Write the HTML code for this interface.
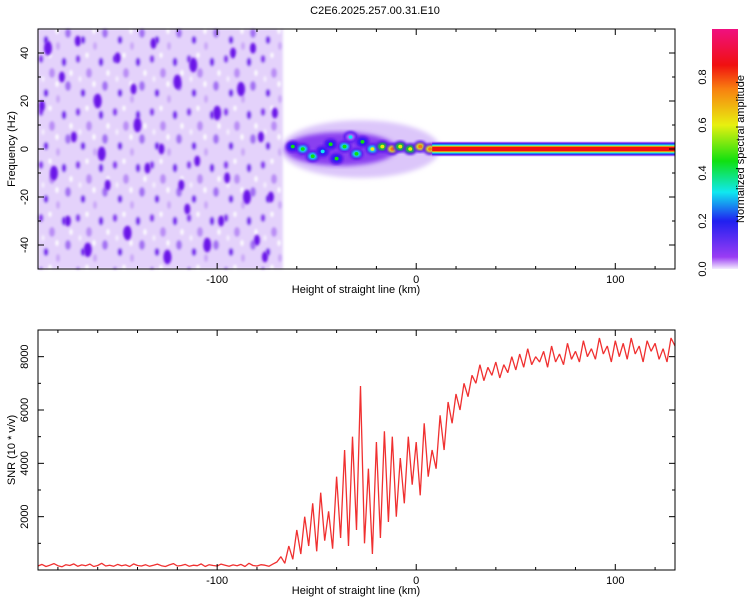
<!DOCTYPE html>
<html><head><meta charset="utf-8"><style>
body{margin:0;background:#fff;font-family:"Liberation Sans",sans-serif}
svg text{font-family:"Liberation Sans",sans-serif;font-size:11px;fill:#000}
</style></head><body>
<svg id="c" width="750" height="600">
<defs>
<linearGradient id="cb" x1="0" y1="1" x2="0" y2="0">
<stop offset="0" stop-color="#f4ecfe"/><stop offset="0.05" stop-color="#9a3cf4"/>
<stop offset="0.2" stop-color="#2020f0"/><stop offset="0.32" stop-color="#10e8f0"/>
<stop offset="0.45" stop-color="#10e010"/><stop offset="0.6" stop-color="#e8f010"/>
<stop offset="0.75" stop-color="#f88010"/><stop offset="0.85" stop-color="#f01010"/>
<stop offset="1" stop-color="#f01080"/></linearGradient>
<filter id="bl"><feGaussianBlur stdDeviation="1.2"/></filter>
<filter id="bl2"><feGaussianBlur stdDeviation="2.5"/></filter>
<pattern id="tex" width="37" height="53" patternUnits="userSpaceOnUse">
<rect width="37" height="53" fill="#e4d2fb"/>
<ellipse cx="4" cy="6" rx="2.5" ry="4" fill="#8a38f0"/>
<ellipse cx="15" cy="20" rx="3" ry="5" fill="#b98cf5"/>
<ellipse cx="27" cy="9" rx="2.5" ry="4.5" fill="#7a22ee"/>
<ellipse cx="31" cy="33" rx="3" ry="5" fill="#a370f3"/>
<ellipse cx="9" cy="40" rx="2.5" ry="4" fill="#7a22ee"/>
<ellipse cx="21" cy="46" rx="2" ry="4" fill="#c9a6f7"/>
<ellipse cx="20" cy="31" rx="1.5" ry="3" fill="#ffffff"/>
<ellipse cx="34" cy="20" rx="1.5" ry="3" fill="#ffffff"/>
<ellipse cx="6" cy="26" rx="1.5" ry="3" fill="#f6f0fe"/>
<ellipse cx="13" cy="2" rx="1.5" ry="3" fill="#ffffff"/>
</pattern>
</defs>
</svg>
<script>
const snrLeft=[150,210,130,180,240,160,120,200,170,230,140,190,160,220,130,170,250,150,180,140,210,160,190,130,230,170,150,200,140,180,220,160,130,190,240,150,170,210,140,180,160,230,130,200,170,150,220,180,140,190,160,210,130,250,170,150,200,180,140,220];
const snrRight=[300,500,250,900,400,1500,600,2000,900,2500,700,2900,1100,2200,800,3500,1200,4500,900,5000,1500,6900,1000,3800,600,4800,1200,5200,1800,5000,2000,4200,2500,5000,3200,4800,2800,5500,3500,4500,3800,5800,4500,6300,5500,6600,6000,7000,6500,7300,7000,7700,7100,7600,7300,7800,7200,7700,7400,8000,7500,8100,7600,8300,7700,8000,7800,8200,7600,8400,7800,8100,7700,8500,7900,8200,7800,8600,8000,8300,7900,8700,8100,8400,7800,8600,8000,8500,7900,8700,8100,8400,7800,8600,8200,8500,7900,8300,7800,8700,8400];
const xTicks=[-100,0,100];
const fTicks=[-40,-20,0,20,40];
const snrTicks=[2000,4000,6000,8000];
const cbTicks=[0.0,0.2,0.4,0.6,0.8];
// speckle blobs: [km, Hz, size, dark(1)/light(0)]
const speckles=[[-185,42,4,1],[-178,30,3,1],[-170,45,3,1],[-160,20,4,1],[-150,38,3,1],[-140,10,4,1],[-132,44,3,1],[-120,28,4,1],[-110,-5,3,1],[-100,15,4,1],[-92,40,3,1],[-85,-20,4,1],[-78,5,3,1],[-182,-10,4,1],[-175,-30,3,1],[-165,-42,4,1],[-155,-15,3,1],[-145,-35,4,1],[-135,-8,3,1],[-125,-45,4,1],[-115,-25,3,1],[-105,-40,4,1],[-95,-12,3,1],[-88,25,4,1],[-80,-38,3,1],[-172,5,3,1],[-158,-2,4,1],[-128,0,3,1],[-112,35,4,1],[-98,-30,3,1],[-188,18,3,1],[-142,25,3,1],[-118,-15,3,1],[-82,42,3,1],[-76,-45,3,1],[-73,-20,3,1],[-71,15,3,1]];
// spectral peak blobs near 0 Hz: [km, Hz, amplitude]
const peaks=[[-62,1,0.45],[-57,0,0.55],[-52,-3,0.5],[-47,-1,0.4],[-43,2,0.45],[-40,-4,0.45],[-36,1,0.5],[-33,5,0.35],[-30,-2,0.5],[-27,3,0.45],[-22,0,0.6],[-17,1,0.7],[-12,0,0.75],[-8,1,0.7],[-3,0,0.7],[2,1,0.75],[7,0,0.75]];
const svg=document.getElementById('c');const NS='http://www.w3.org/2000/svg';
function el(t,a,p){const e=document.createElementNS(NS,t);for(const k in a)e.setAttribute(k,a[k]);(p||svg).appendChild(e);return e;}
const X0=38,X1=675,KM0=-190,KM1=130;
const xs=v=>X0+(v-KM0)/(KM1-KM0)*(X1-X0);
const T0=29,T1=269,fy=v=>T0+(50-v)/100*(T1-T0);
const B0=330,B1=570,sy=v=>B1-v/9000*(B1-B0);
function cmap(a){const s=[[0,'#b070f8'],[0.2,'#2020f0'],[0.32,'#10e8f0'],[0.45,'#10e010'],[0.6,'#e8f010'],[0.75,'#f88010'],[0.85,'#f01010'],[1,'#f01080']];let c=s[0][1];for(const q of s)if(a>=q[0])c=q[1];return c;}
let t=el('text',{x:375,y:14,'text-anchor':'middle','font-size':'13'});t.textContent='C2E6.2025.257.00.31.E10';

// top plot
const g=el('g',{});
el('rect',{x:X0,y:T0,width:xs(-67)-X0,height:T1-T0,fill:'url(#tex)',filter:'url(#bl)'},g);
const sg=el('g',{filter:'url(#bl)'},g);
for(const s of speckles){const e=el('ellipse',{cx:xs(s[0]),cy:fy(s[1]),rx:s[2],ry:s[2]*1.8,fill:s[3]?'#6a18e8':'#b486f4'},sg);}
el('ellipse',{cx:xs(-28),cy:fy(0),rx:xs(12)-xs(-28),ry:fy(-12)-fy(0),fill:'#dcc6fa',filter:'url(#bl2)'},g);
el('ellipse',{cx:xs(-38),cy:fy(0),rx:xs(-10)-xs(-38),ry:fy(-7)-fy(0),fill:'#8a40f0',filter:'url(#bl2)'},g);
for(const p of peaks){const cx=xs(p[0]),cy=fy(p[1]);
el('ellipse',{cx:cx,cy:cy,rx:7,ry:6,fill:'#5a18f0',filter:'url(#bl)'},g);
el('ellipse',{cx:cx,cy:cy,rx:4.5,ry:3.5,fill:cmap(p[2]-0.15),filter:'url(#bl)'},g);
const e=el('ellipse',{cx:cx,cy:cy,rx:2,ry:1.8,fill:cmap(p[2])},g);}
const band=[[-3,'#a060f4'],[-2.4,'#2020f0'],[-1.9,'#10e8f0'],[-1.4,'#e8f010'],[-1.0,'#f01010']];
for(const b of band)el('rect',{x:xs(8),y:fy(-b[0]),width:X1-xs(8),height:fy(b[0])-fy(-b[0]),fill:b[1]},g);
el('rect',{x:X0,y:T0,width:X1-X0,height:T1-T0,fill:'none',stroke:'#000','stroke-width':1});
function axes(y0,y1,ticks,yfn,lbl){
 for(const v of xTicks){el('line',{x1:xs(v),x2:xs(v),y1:y1,y2:y1-6,stroke:'#000'});el('line',{x1:xs(v),x2:xs(v),y1:y0,y2:y0+6,stroke:'#000'});
 const tt=el('text',{x:xs(v),y:y1+14,'text-anchor':'middle'});tt.textContent=v;}
 for(let v=-180;v<=130;v+=20){if(xTicks.includes(v))continue;el('line',{x1:xs(v),x2:xs(v),y1:y1,y2:y1-3,stroke:'#000'});el('line',{x1:xs(v),x2:xs(v),y1:y0,y2:y0+3,stroke:'#000'});}
 for(const v of ticks){const y=yfn(v);el('line',{x1:X0,x2:X0+6,y1:y,y2:y,stroke:'#000'});el('line',{x1:X1,x2:X1-6,y1:y,y2:y,stroke:'#000'});
 const tt=el('text',{x:28,y:y,'text-anchor':'middle',transform:`rotate(-90 28 ${y})`});tt.textContent=v;}
 const xl=el('text',{x:356,y:y1+24,'text-anchor':'middle','font-size':'10'});xl.textContent='Height of straight line (km)';
 const ym=(y0+y1)/2;const yl=el('text',{x:15,y:ym,'text-anchor':'middle','font-size':'10',transform:`rotate(-90 15 ${ym})`});yl.textContent=lbl;
}
axes(T0,T1,fTicks,fy,'Frequency (Hz)');
for(let v=-50;v<=50;v+=10){if(fTicks.includes(v))continue;el('line',{x1:X0,x2:X0+3,y1:fy(v),y2:fy(v),stroke:'#000'});el('line',{x1:X1,x2:X1-3,y1:fy(v),y2:fy(v),stroke:'#000'});}
// colorbar
const cb=el('rect',{x:712,y:T0,width:26,height:T1-T0,fill:'url(#cb)'});
for(const v of cbTicks){const y=T1-v/1.0*(T1-T0);const tt=el('text',{x:706,y:y,'text-anchor':'middle','font-size':'10',transform:`rotate(-90 706 ${y})`});tt.textContent=v.toFixed(1);}
const cl=el('text',{x:744,y:149,'text-anchor':'middle','font-size':'10',transform:'rotate(-90 744 149)'});cl.textContent='Normalized spectral amplitude';
// bottom plot
const snr=snrLeft.concat(snrRight);
let d='';snr.forEach((v,i)=>{d+=(i?'L':'M')+xs(KM0+2*i).toFixed(1)+' '+sy(v).toFixed(1);});
const ln=el('path',{d:d,fill:'none',stroke:'#f03030','stroke-width':1.3,'stroke-linejoin':'bevel'});
el('rect',{x:X0,y:B0,width:X1-X0,height:B1-B0,fill:'none',stroke:'#000'});
axes(B0,B1,snrTicks,sy,'SNR (10 * v/v)');
for(let v=1000;v<9000;v+=2000){el('line',{x1:X0,x2:X0+3,y1:sy(v),y2:sy(v),stroke:'#000'});el('line',{x1:X1,x2:X1-3,y1:sy(v),y2:sy(v),stroke:'#000'});}
</script>
</body></html>
